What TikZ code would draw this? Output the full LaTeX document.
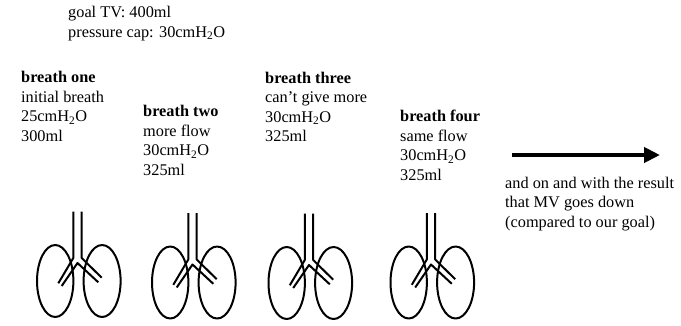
\documentclass[tikz,border=0pt]{standalone}
\usepackage{fontspec}
\setmainfont{Liberation Serif}
\usetikzlibrary{arrows.meta}
\begin{document}
\begin{tikzpicture}[x=1pt,y=-1pt,
  % multi-line text blocks are placed by the baseline of their last line
  txt/.style={anchor=base west, inner sep=0pt, align=left,
    font=\fontsize{16.3}{19.6}\selectfont},
  organ/.style={line width=2pt, line join=round},
  bigarrow/.style={line width=4.5pt, -{Triangle[length=16pt,width=15pt]}},
  pics/lungs/.style={code={
    % trachea splitting into the two bronchi
    \draw[organ] (-4.2,0) -- (-4.2,46.5) -- (-19.2,71.8);
    \draw[organ] (4.2,0) -- (4.2,46.5) -- (24.2,66.2);
    \draw[organ] (-15.8,74.5) -- (0,51.5) -- (20.8,70.8);
    % left and right lobes
    \draw[organ] (-22.3,69.5) ellipse [x radius=18.2, y radius=36];
    \draw[organ] (24.6,69.5) ellipse [x radius=18.5, y radius=36];
  }}]
\useasboundingbox (0,0) rectangle (681,325);

\node[txt] (goal) at (68,37.1) {goal TV: 400ml\\pressure cap: 30cmH\textsubscript{2}O};

\node[txt] (b1) at (21,141.3) {\textbf{breath one}\\initial breath\\25cmH\textsubscript{2}O\\300ml};
\node[txt] (b2) at (143,175.3) {\textbf{breath two}\\more flow\\30cmH\textsubscript{2}O\\325ml};
\node[txt] (b3) at (265,141.8) {\textbf{breath three}\\can't give more\\30cmH\textsubscript{2}O\\325ml};
\node[txt] (b4) at (400,180.5) {\textbf{breath four}\\same flow\\30cmH\textsubscript{2}O\\325ml};

\coordinate (arrS) at (512,155);
\coordinate (arrE) at (660,155);
\draw[bigarrow] (arrS) -- (arrE);

\node[txt] (result) at (505,227.5) {and on and with the result\\that MV goes down\\(compared to our goal)};

\pic at (77.5,211.5) {lungs};
\pic at (192.5,213) {lungs};
\pic at (309,213.5) {lungs};
\pic at (431,213) {lungs};
\end{tikzpicture}
\end{document}
